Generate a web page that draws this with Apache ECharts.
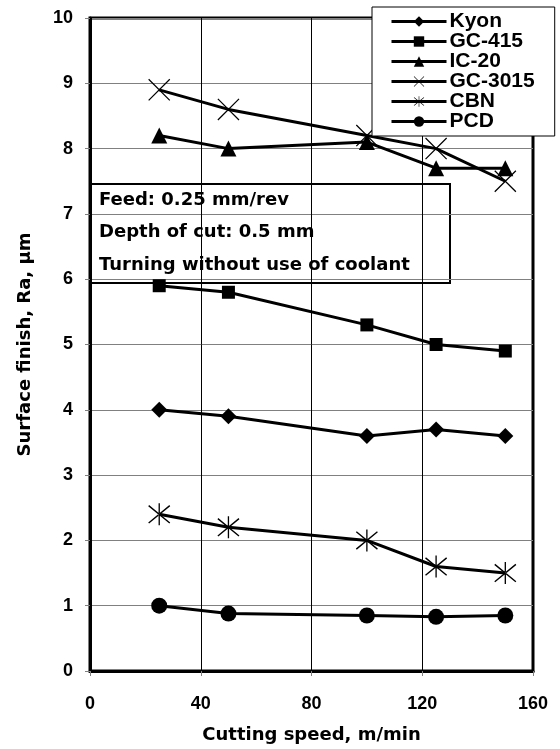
<!DOCTYPE html>
<html>
<head>
<meta charset="utf-8">
<script src="https://cdn.jsdelivr.net/npm/echarts@6/dist/echarts.min.js"></script>
<style>
  html, body { margin: 0; padding: 0; background: #fff; }
  #chart { width: 560px; height: 749px; }
</style>
</head>
<body>
<div id="chart"></div>
<script>
// cutting speed, m/min
const speeds = [25, 50, 100, 125, 150];
const seriesNames = ["Kyon", "GC-415", "IC-20", "GC-3015", "CBN", "PCD"];
// surface finish Ra, um
const kyon = [4.0, 3.9, 3.6, 3.7, 3.6];
const gc415 = [5.9, 5.8, 5.3, 5.0, 4.9];
const ic20 = [8.2, 8.0, 8.1, 7.7, 7.7];
const gc3015 = [8.9, 8.6, 8.2, 8.0, 7.5];
const cbn = [2.4, 2.2, 2.0, 1.6, 1.5];
const pcd = [1.0, 0.88, 0.85, 0.83, 0.85];
const noteLines = ["Feed: 0.25 mm/rev", "Depth of cut: 0.5 mm", "Turning without use of coolant"];

// thin cross and asterisk drawn as filled outlines
const crossPath = "path://M0 0.8 L0.8 0 L20 19.2 L19.2 20 Z M19.2 0 L20 0.8 L0.8 20 L0 19.2 Z";
const starPath = "path://M9.4 0 L10.6 0 L10.6 20 L9.4 20 Z M0 2.6 L0.8 1.6 L20 17.4 L19.2 18.4 Z M20 2.6 L19.2 1.6 L0 17.4 L0.8 18.4 Z";

const symbols = [
  { symbol: "diamond", size: 16 },
  { symbol: "rect", size: 13 },
  { symbol: "triangle", size: 16 },
  { symbol: crossPath, size: 22 },
  { symbol: starPath, size: 22 },
  { symbol: "circle", size: 16 }
];
const values = [kyon, gc415, ic20, gc3015, cbn, pcd];

const chart = echarts.init(document.getElementById("chart"));

const series = seriesNames.map((name, i) => ({
  name: name,
  type: "line",
  data: speeds.map((s, j) => [s, values[i][j]]),
  symbol: symbols[i].symbol,
  symbolSize: symbols[i].size,
  showAllSymbol: true,
  lineStyle: { color: "#000", width: 3 },
  itemStyle: { color: "#000", borderWidth: 0 },
  emphasis: { disabled: true },
  z: 3
}));

const tickFont = { fontFamily: "Liberation Sans", fontWeight: "bold", fontSize: 18, color: "#000" };
const titleFont = { fontFamily: "DejaVu Sans", fontWeight: "bold", fontSize: 18, color: "#000" };

const option = {
  animation: false,
  backgroundColor: "#fff",
  grid: {
    left: 90, right: 27, top: 18, bottom: 76,
    show: true, borderColor: "#000", borderWidth: 3, backgroundColor: "transparent"
  },
  xAxis: {
    type: "value",
    min: 0, max: 160, interval: 40,
    name: "Cutting speed, m/min",
    nameLocation: "middle",
    nameGap: 55,
    nameTextStyle: titleFont,
    axisLine: { lineStyle: { color: "#000", width: 3 } },
    axisTick: { show: true, length: 5, lineStyle: { color: "#808080", width: 1 } },
    axisLabel: Object.assign({ margin: 24 }, tickFont),
    splitLine: { show: true, lineStyle: { color: "#000", width: 1 } }
  },
  yAxis: {
    type: "value",
    min: 0, max: 10, interval: 1,
    name: "Surface finish, Ra, µm",
    nameLocation: "middle",
    nameGap: 56,
    nameTextStyle: titleFont,
    axisLine: { lineStyle: { color: "#000", width: 3 } },
    axisTick: { show: true, length: 5, lineStyle: { color: "#808080", width: 1 } },
    axisLabel: Object.assign({ margin: 17 }, tickFont),
    splitLine: { show: true, lineStyle: { color: "#808080", width: 1 } }
  },
  legend: {
    data: seriesNames,
    orient: "vertical",
    left: 372, top: 7,
    backgroundColor: "#fff",
    borderColor: "#000",
    borderWidth: 1,
    padding: [4, 20, 4, 18],
    itemWidth: 55,
    itemHeight: 13,
    itemGap: -1,
    selectedMode: false,
    lineStyle: { color: "#000", width: 3 },
    textStyle: { fontFamily: "Liberation Sans", fontWeight: "bold", fontSize: 21, color: "#000", padding: [0, 0, 0, -2] },
    z: 10
  },
  graphic: [{
    type: "group",
    left: 90, top: 183,
    z: 100,
    children: [
      {
        type: "rect",
        shape: { x: 0, y: 0, width: 359, height: 99 },
        style: { fill: "#fff", stroke: "#000", lineWidth: 2 }
      }
    ].concat(noteLines.map((t, i) => ({
      type: "text",
      x: 8, y: 16 + i * 32.5,
      style: {
        text: t,
        font: "bold 18px 'DejaVu Sans'",
        fill: "#000",
        verticalAlign: "middle"
      }
    })))
  }],
  series: series
};

chart.setOption(option);
</script>
</body>
</html>
